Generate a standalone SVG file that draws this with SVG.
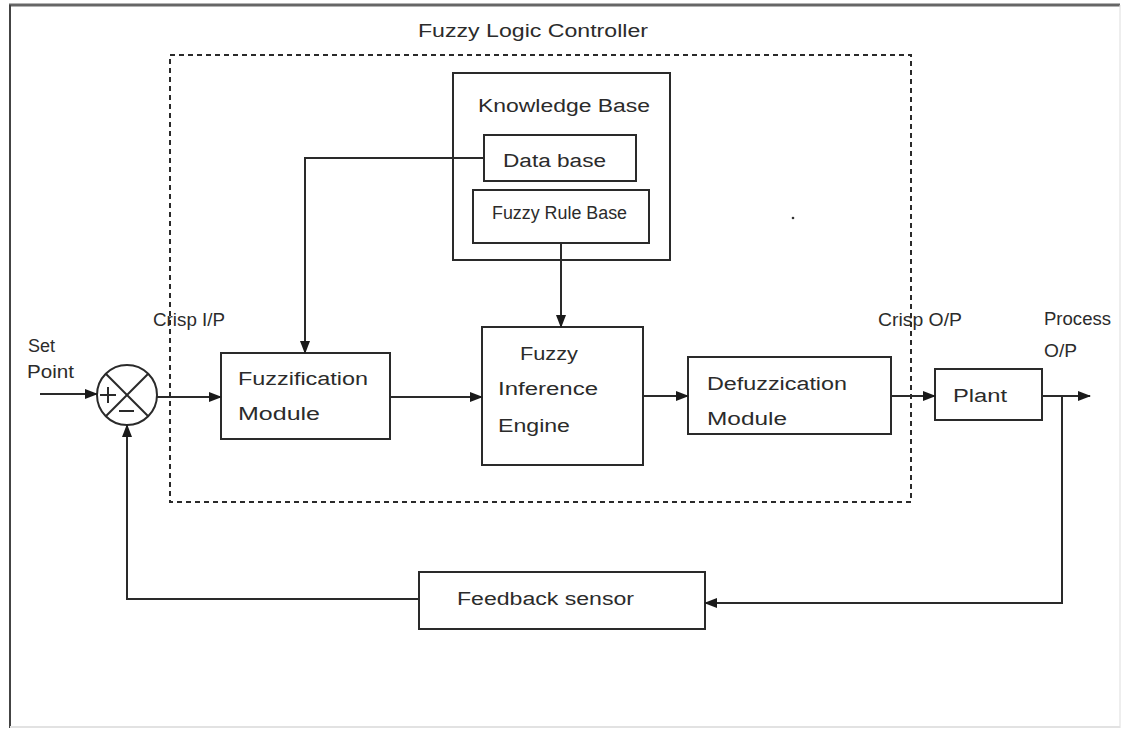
<svg xmlns="http://www.w3.org/2000/svg" width="1123" height="731" viewBox="0 0 1123 731">
<style>
  .box { fill: #fff; stroke: #2a2a2a; stroke-width: 2; }
  .ln { fill: none; stroke: #2a2a2a; stroke-width: 2; }
  .t { font-family: "Liberation Sans", "DejaVu Sans", sans-serif; fill: #2b2b2b; font-size: 18px; }
</style>
<defs>
  <marker id="ah" markerWidth="13" markerHeight="10" refX="12" refY="5" orient="auto" markerUnits="userSpaceOnUse">
    <path d="M0,0 L13,5 L0,10 Z" fill="#1a1a1a"/>
  </marker>
</defs>
<rect x="0" y="0" width="1123" height="731" fill="#fff"/>
<g id="frame">
  <line x1="9" y1="5" x2="1120" y2="5" stroke="#666" stroke-width="3"/>
  <line x1="10" y1="5" x2="10" y2="728" stroke="#444" stroke-width="2"/>
  <line x1="1120" y1="5" x2="1120" y2="728" stroke="#ddd" stroke-width="1"/>
  <line x1="10" y1="727" x2="1120" y2="727" stroke="#e2e2e2" stroke-width="2"/>
</g>
<g id="controller">
  <rect x="170" y="55" width="741" height="447" fill="none" stroke="#2a2a2a" stroke-width="2" stroke-dasharray="5,4"/>
  <text class="t" x="418" y="37" textLength="230" lengthAdjust="spacingAndGlyphs" font-size="19">Fuzzy Logic Controller</text>
</g>
<g id="summing">
  <circle cx="127" cy="395" r="30" fill="#fff" stroke="#2a2a2a" stroke-width="2"/>
  <line class="ln" x1="105.8" y1="373.8" x2="148.2" y2="416.2"/>
  <line class="ln" x1="148.2" y1="373.8" x2="105.8" y2="416.2"/>
  <line class="ln" x1="100" y1="395" x2="116" y2="395"/>
  <line class="ln" x1="108" y1="387" x2="108" y2="403"/>
  <line class="ln" x1="119" y1="411" x2="134" y2="411"/>
</g>
<g id="labels">
  <text class="t" x="28" y="352" textLength="27" lengthAdjust="spacingAndGlyphs" font-size="17">Set</text>
  <text class="t" x="27" y="378" textLength="47" lengthAdjust="spacingAndGlyphs" font-size="17">Point</text>
  <text class="t" x="153" y="326" textLength="72" lengthAdjust="spacingAndGlyphs" font-size="17">Crisp I/P</text>
  <text class="t" x="878" y="326" textLength="84" lengthAdjust="spacingAndGlyphs" font-size="17">Crisp O/P</text>
  <text class="t" x="1044" y="325" textLength="67" lengthAdjust="spacingAndGlyphs" font-size="17">Process</text>
  <text class="t" x="1044" y="357" textLength="33" lengthAdjust="spacingAndGlyphs" font-size="17">O/P</text>
  <circle cx="793" cy="218" r="1.3" fill="#333"/>
</g>
<g id="knowledge-base">
  <rect class="box" x="453" y="73" width="217" height="187"/>
  <text class="t" x="478" y="112" textLength="172" lengthAdjust="spacingAndGlyphs">Knowledge Base</text>
</g>
<g id="data-base">
  <rect class="box" x="484" y="135" width="152" height="46"/>
  <text class="t" x="503" y="167" textLength="103" lengthAdjust="spacingAndGlyphs">Data base</text>
</g>
<g id="fuzzy-rule-base">
  <rect class="box" x="473" y="190" width="176" height="53"/>
  <text class="t" x="492" y="219" textLength="135" lengthAdjust="spacingAndGlyphs" font-size="16">Fuzzy Rule Base</text>
</g>
<g id="fuzzification">
  <rect class="box" x="221" y="353" width="169" height="86"/>
  <text class="t" x="238" y="385" textLength="130" lengthAdjust="spacingAndGlyphs">Fuzzification</text>
  <text class="t" x="238" y="420" textLength="82" lengthAdjust="spacingAndGlyphs">Module</text>
</g>
<g id="inference-engine">
  <rect class="box" x="482" y="327" width="161" height="138"/>
  <text class="t" x="520" y="360" textLength="58" lengthAdjust="spacingAndGlyphs" font-size="19">Fuzzy</text>
  <text class="t" x="498" y="395" textLength="100" lengthAdjust="spacingAndGlyphs" font-size="19">Inference</text>
  <text class="t" x="498" y="432" textLength="72" lengthAdjust="spacingAndGlyphs" font-size="19">Engine</text>
</g>
<g id="defuzzication">
  <rect class="box" x="688" y="357" width="203" height="77"/>
  <text class="t" x="707" y="390" textLength="140" lengthAdjust="spacingAndGlyphs" font-size="19">Defuzzication</text>
  <text class="t" x="707" y="425" textLength="80" lengthAdjust="spacingAndGlyphs" font-size="19">Module</text>
</g>
<g id="plant">
  <rect class="box" x="935" y="369" width="107" height="51"/>
  <text class="t" x="953" y="402" textLength="54" lengthAdjust="spacingAndGlyphs" font-size="19">Plant</text>
</g>
<g id="feedback-sensor">
  <rect class="box" x="419" y="572" width="286" height="57"/>
  <text class="t" x="457" y="605" textLength="177" lengthAdjust="spacingAndGlyphs" font-size="19">Feedback sensor</text>
</g>
<g id="connectors">
  <line class="ln" x1="40" y1="394" x2="97" y2="394" marker-end="url(#ah)"/>
  <line class="ln" x1="157" y1="397" x2="221" y2="397" marker-end="url(#ah)"/>
  <polyline class="ln" points="484,158 305,158 305,353" marker-end="url(#ah)"/>
  <line class="ln" x1="390" y1="397" x2="482" y2="397" marker-end="url(#ah)"/>
  <line class="ln" x1="561" y1="243" x2="561" y2="327" marker-end="url(#ah)"/>
  <line class="ln" x1="643" y1="396" x2="688" y2="396" marker-end="url(#ah)"/>
  <line class="ln" x1="891" y1="396" x2="935" y2="396" marker-end="url(#ah)"/>
  <line class="ln" x1="1042" y1="396" x2="1090" y2="396" marker-end="url(#ah)"/>
  <polyline class="ln" points="1062,396 1062,603 705,603" marker-end="url(#ah)"/>
  <polyline class="ln" points="419,599 127,599 127,425" marker-end="url(#ah)"/>
</g>
</svg>
